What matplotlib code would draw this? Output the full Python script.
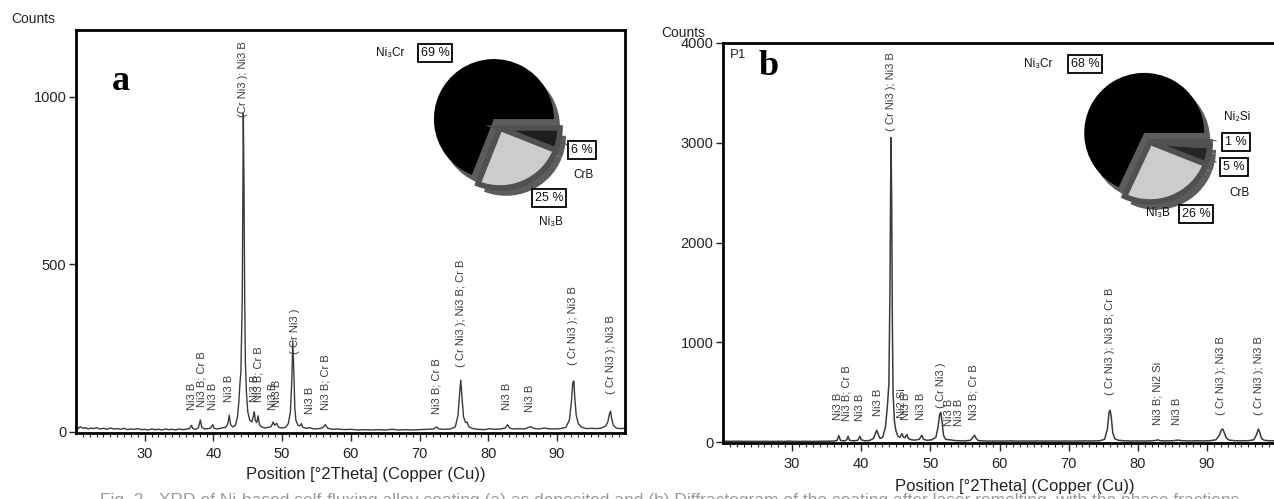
import matplotlib
matplotlib.use('Agg')
import matplotlib.pyplot as plt
from matplotlib.lines import Line2D

plt.rcParams['font.family'] = ['Liberation Sans', 'DejaVu Sans']

W, H = 1274, 499

# ---------------- data: panel a ----------------
two_theta_a = [20.0, 20.3, 20.6, 21.0, 21.4, 21.8, 22.2, 22.6, 23.0, 23.5, 24.0, 24.5, 25.0, 25.5,
               26.0, 26.5, 27.0, 27.5, 28.0, 28.5, 29.0, 29.5, 30.0, 30.5, 31.0, 31.5, 32.0, 32.5,
               33.0, 33.5, 34.0, 34.5, 35.0, 35.5, 36.0, 36.5, 36.8, 37.0, 37.4, 37.8, 38.1, 38.3,
               38.7, 39.2, 39.6, 39.9, 40.1, 40.6, 41.2, 41.8, 42.1, 42.3, 42.5, 42.8, 43.2, 43.5,
               43.7, 43.85, 44.0, 44.2, 44.35, 44.45, 44.55, 44.65, 44.8, 45.0, 45.3, 45.6, 45.85,
               45.95, 46.1, 46.3, 46.5, 46.7, 47.0, 47.5, 48.0, 48.4, 48.7, 48.9, 49.2, 49.5, 50.0,
               50.5, 50.9, 51.2, 51.4, 51.55, 51.7, 51.85, 52.0, 52.3, 52.6, 52.8, 53.0, 53.5, 54.0,
               54.4, 55.0, 55.6, 56.0, 56.3, 56.6, 57.0, 57.5, 58.0, 59.0, 60.0, 61.0, 62.0, 63.0,
               64.0, 65.0, 66.0, 67.0, 68.0, 69.0, 70.0, 71.0, 72.0, 72.5, 72.8, 73.5, 74.5, 75.2,
               75.6, 75.85, 76.0, 76.15, 76.4, 76.7, 76.9, 77.2, 77.8, 78.5, 79.5, 80.2, 80.6, 81.0,
               81.8, 82.5, 82.8, 83.1, 83.6, 84.5, 85.2, 85.8, 86.2, 86.6, 87.4, 88.2, 88.6, 89.5,
               90.5, 91.3, 91.8, 92.1, 92.3, 92.45, 92.6, 92.8, 93.1, 93.6, 94.3, 95.0, 95.8, 96.5,
               97.1, 97.4, 97.65, 97.8, 97.95, 98.2, 98.6, 99.2, 99.9]
counts_a = [14, 10, 16, 11, 13, 9, 12, 10, 13, 9, 11, 8, 12, 9,
            10, 8, 11, 7, 9, 8, 10, 7, 8, 6, 9, 7, 8, 6,
            9, 7, 8, 6, 9, 7, 8, 10, 20, 10, 8, 12, 36, 14,
            9, 10, 12, 22, 11, 9, 12, 14, 25, 50, 22, 15, 20, 45,
            90, 142, 180, 400, 950, 740, 400, 210, 120, 60, 35, 30, 50,
            60, 35, 28, 48, 22, 15, 12, 14, 16, 30, 20, 26, 14, 12,
            14, 25, 60, 150, 272, 180, 70, 35, 20, 18, 25, 14, 11, 13,
            10, 9, 11, 14, 22, 12, 9, 8, 9, 7, 8, 6, 7, 6,
            7, 6, 8, 6, 7, 6, 7, 8, 9, 15, 9, 8, 9, 15,
            50, 120, 155, 110, 45, 28, 30, 15, 10, 8, 7, 10, 9, 8,
            9, 12, 22, 12, 9, 10, 9, 13, 16, 11, 9, 12, 10, 9,
            10, 14, 35, 90, 148, 152, 100, 50, 25, 14, 10, 11, 10, 12,
            18, 30, 55, 62, 40, 20, 12, 10, 11]

# ---------------- data: panel b ----------------
two_theta_b = [20.0, 21.0, 22.0, 23.0, 24.0, 25.0, 26.0, 27.0, 28.0, 29.0, 29.5, 30.0, 31.0, 32.0,
               33.0, 34.0, 35.0, 36.0, 36.5, 36.75, 37.0, 37.6, 37.9, 38.1, 38.3, 38.9, 39.5, 39.8,
               40.0, 40.5, 41.2, 41.8, 42.1, 42.25, 42.4, 42.7, 43.1, 43.5, 43.8, 44.0, 44.15, 44.3,
               44.4, 44.5, 44.6, 44.8, 45.0, 45.3, 45.6, 45.9, 46.1, 46.3, 46.6, 46.8, 47.2, 47.8,
               48.4, 48.75, 49.0, 49.5, 50.2, 50.8, 51.1, 51.35, 51.5, 51.7, 51.9, 52.2, 52.8, 53.5,
               54.2, 55.0, 55.8, 56.2, 56.4, 56.6, 56.9, 57.5, 58.5, 59.5, 60.5, 61.5, 62.5, 63.5,
               64.5, 65.5, 66.5, 67.5, 68.5, 69.5, 70.5, 71.5, 72.5, 73.5, 74.5, 75.2, 75.6, 75.85,
               76.0, 76.15, 76.4, 76.7, 77.2, 78.0, 79.0, 80.0, 81.0, 82.0, 82.6, 82.9, 83.2, 84.0,
               85.0, 85.9, 86.3, 87.5, 88.5, 89.5, 90.5, 91.3, 91.8, 92.1, 92.3, 92.5, 92.8, 93.2,
               94.0, 95.0, 96.0, 96.8, 97.2, 97.45, 97.65, 97.9, 98.3, 99.0, 99.9]
counts_b = [12, 10, 11, 9, 10, 9, 10, 9, 10, 9, 12, 10, 9, 10,
            9, 10, 11, 12, 18, 67, 18, 14, 25, 60, 20, 15, 20, 60,
            25, 15, 18, 40, 100, 120, 90, 40, 50, 150, 377, 590, 1500, 3050,
            2440, 1200, 500, 210, 120, 60, 50, 87, 50, 45, 77, 40, 25, 22,
            30, 70, 30, 20, 25, 50, 150, 280, 300, 200, 70, 30, 25, 18,
            15, 14, 20, 55, 70, 40, 18, 14, 12, 13, 12, 14, 12, 13,
            12, 13, 12, 13, 12, 13, 12, 13, 14, 13, 15, 30, 130, 300,
            320, 260, 90, 35, 20, 15, 13, 14, 13, 15, 18, 25, 16, 14,
            15, 22, 16, 14, 15, 14, 16, 25, 70, 125, 133, 100, 45, 22,
            16, 15, 16, 25, 80, 133, 100, 40, 20, 16, 15]

# ---------------- peak labels ----------------
peak_pos_a = [36.9, 38.2, 39.9, 42.3, 44.35, 46.0, 46.6, 48.7, 49.3, 51.8, 54.1, 56.3,
              72.5, 76.0, 82.7, 86.1, 92.4, 97.8]
peak_base_a = [65, 75, 67, 90, 940, 90, 90, 67, 75, 234, 55, 67, 55, 194, 67, 60, 199, 114]
peak_text_a = ['Ni3 B', 'Ni3 B; Cr B', 'Ni3 B', 'Ni3 B', '(Cr Ni3 ); Ni3 B', 'Ni3 B',
               'Ni3 B; Cr B', 'Ni3 B', 'Ni3 B', '( Cr Ni3 )', 'Ni3 B', 'Ni3 B; Cr B',
               'Ni3 B; Cr B', '( Cr Ni3 ); Ni3 B; Cr B', 'Ni3 B', 'Ni3 B',
               '( Cr Ni3 ); Ni3 B', '( Cr Ni3 ); Ni3 B']

peak_pos_b = [36.7, 37.9, 39.8, 42.4, 44.3, 45.9, 46.5, 48.7, 51.5, 52.7, 54.1, 56.3,
              76.0, 82.8, 85.7, 92.0, 97.5]
peak_base_b = [227, 210, 210, 260, 3120, 243, 227, 227, 343, 160, 160, 227, 477, 177, 177, 277, 277]
peak_text_b = ['Ni3 B', 'Ni3 B; Cr B', 'Ni3 B', 'Ni3 B', '( Cr Ni3 ); Ni3 B', 'Ni2 Si', 'Ni3 B',
               'Ni3 B', '( Cr Ni3 )', 'Ni3 B', 'Ni3 B', 'Ni3 B; Cr B', '( Cr Ni3 ); Ni3 B; Cr B',
               'Ni3 B; Ni2 Si', 'Ni3 B', '( Cr Ni3 ); Ni3 B', '( Cr Ni3 ); Ni3 B']

# ---------------- pie data ----------------
pie_values_a = [69, 25, 6]
pie_names_a = ['Ni₃Cr', 'Ni₃B', 'CrB']
pie_values_b = [68, 26, 5, 1]
pie_names_b = ['Ni₃Cr', 'Ni₃B', 'CrB', 'Ni₂Si']

x_ticks = [30, 40, 50, 60, 70, 80, 90]
y_ticks_a = [0, 500, 1000]
y_ticks_b = [0, 1000, 2000, 3000, 4000]
x_label = 'Position [°2Theta] (Copper (Cu))'
caption = ('Fig. 2 - XRD of Ni-based self-fluxing alloy coating (a) as deposited and (b) Diffractogram '
           'of the coating after laser remelting, with the phase fractions')

fig = plt.figure(figsize=(W / 100, H / 100), dpi=100)


def px(x0, y0, x1, y1):
    return [x0 / W, 1 - y1 / H, (x1 - x0) / W, (y1 - y0) / H]


def fx(x):
    return x / W


def fy(y):
    return 1 - y / H


def style(ax, xlim, ylim, yticks):
    ax.set_xlim(*xlim)
    ax.set_ylim(*ylim)
    ax.set_xticks(x_ticks)
    ax.set_xticks(list(range(21, 100)), minor=True)
    ax.set_yticks(yticks)
    ax.tick_params(axis='x', which='major', direction='out', length=6, width=1, pad=4,
                   labelsize=10.5, colors='#222222')
    ax.tick_params(axis='x', which='minor', direction='out', length=3, width=0.8, colors='#222222')
    ax.tick_params(axis='y', direction='out', length=5, width=1, pad=2, labelsize=10.5,
                   colors='#222222')
    for s in ax.spines.values():
        s.set_linewidth(2)
        s.set_color('black')


# ---------------- panel a ----------------
axA = fig.add_axes(px(76, 30, 625, 433))
axA.plot(two_theta_a, counts_a, color='#3a3a3a', lw=1.0)
style(axA, (20, 99.9), (-3, 1199), y_ticks_a)
for x, y, t in zip(peak_pos_a, peak_base_a, peak_text_a):
    axA.text(x, y, t, rotation=90, ha='center', va='bottom', fontsize=8, color='#3a3a3a')
axA.text(0.065, 0.85, 'a', transform=axA.transAxes, fontsize=26, fontweight='bold',
         family='Liberation Serif', ha='left', va='baseline')

# ---------------- panel b ----------------
axB = fig.add_axes(px(723, 42.7, 1276, 443.3))
axB.plot(two_theta_b, counts_b, color='#3a3a3a', lw=1.1)
style(axB, (20, 100), (-10, 4000), y_ticks_b)
for x, y, t in zip(peak_pos_b, peak_base_b, peak_text_b):
    axB.text(x, y, t, rotation=90, ha='center', va='bottom', fontsize=8, color='#3a3a3a')
axB.text(0.012, 0.985, 'P1', transform=axB.transAxes, fontsize=9.5, ha='left', va='top',
         color='#222222')
axB.text(0.065, 0.92, 'b', transform=axB.transAxes, fontsize=26, fontweight='bold',
         family='Liberation Serif', ha='left', va='baseline')

# axis titles
fig.text(fx(33), fy(19), 'Counts', fontsize=10, ha='center', va='center', color='#222222')
fig.text(fx(683), fy(33), 'Counts', fontsize=10, ha='center', va='center', color='#222222')
fig.text(fx(366), fy(474), x_label, fontsize=12, ha='center', va='center', color='#222222')
fig.text(fx(1015), fy(487), x_label, fontsize=12, ha='center', va='center', color='#222222')
fig.text(fx(100), fy(505), caption, fontsize=12.5, ha='left', va='baseline', color='#9a9a9a')


# ---------------- pies ----------------
def draw_pie(cx, cy, values, colors):
    pa = fig.add_axes(px(cx - 90, cy - 90, cx + 90, cy + 90))
    explode = [0.18] + [0] * (len(values) - 1)
    pa.pie(values, colors=['#5c5c5c'] * len(values), explode=explode, startangle=0,
           center=(0.1, -0.13), wedgeprops=dict(linewidth=0))
    wedges, _ = pa.pie(values, colors=colors, explode=explode, startangle=0,
                       wedgeprops=dict(edgecolor='#4a4a4a', linewidth=1.0))
    for w in wedges[1:]:
        w.set_edgecolor('#505050')
        w.set_linewidth(4.0)
    wedges[0].set_linewidth(0)
    pa.set_xlim(-1.5, 1.5)
    pa.set_ylim(-1.5, 1.5)
    pa.axis('off')
    return pa


draw_pie(500, 128, pie_values_a, ['#000000', '#cccccc', '#1e1e1e'])
draw_pie(1150, 142, pie_values_b, ['#000000', '#cccccc', '#262626', '#000000'])

box = dict(boxstyle='square,pad=0.22', fc='white', ec='black', lw=1.3)


def pie_text(x, y, t, boxed=False, size=8.5):
    fig.text(fx(x), fy(y), t, fontsize=size, ha='center', va='center', color='#111111',
             bbox=box if boxed else None)


# panel a labels
pie_text(390, 53, pie_names_a[0])
pie_text(435, 53, f'{pie_values_a[0]} %', True, 9)
pie_text(582, 150, f'{pie_values_a[2]} %', True, 9)
pie_text(584, 175, pie_names_a[2])
pie_text(549, 198, f'{pie_values_a[1]} %', True, 9)
pie_text(551, 222, pie_names_a[1])
fig.add_artist(Line2D([fx(561), fx(570)], [fy(141), fy(147)], color='#555555', lw=0.8))
fig.add_artist(Line2D([fx(527), fx(534)], [fy(182), fy(189)], color='#555555', lw=0.8))

# panel b labels
pie_text(1038, 64, pie_names_b[0])
pie_text(1085, 64, f'{pie_values_b[0]} %', True, 9)
pie_text(1237, 117, pie_names_b[3])
pie_text(1236, 142, f'{pie_values_b[3]} %', True, 9)
pie_text(1234, 167, f'{pie_values_b[2]} %', True, 9)
pie_text(1240, 193, pie_names_b[2])
pie_text(1158, 213, pie_names_b[1])
pie_text(1196, 214, f'{pie_values_b[1]} %', True, 9)
fig.add_artist(Line2D([fx(1207), fx(1216)], [fy(139), fy(141)], color='#555555', lw=0.8))
fig.add_artist(Line2D([fx(1206), fx(1216)], [fy(155), fy(162)], color='#555555', lw=0.8))
fig.add_artist(Line2D([fx(1174), fx(1180)], [fy(198), fy(205)], color='#555555', lw=0.8))

fig.savefig('out.png', dpi=100)
